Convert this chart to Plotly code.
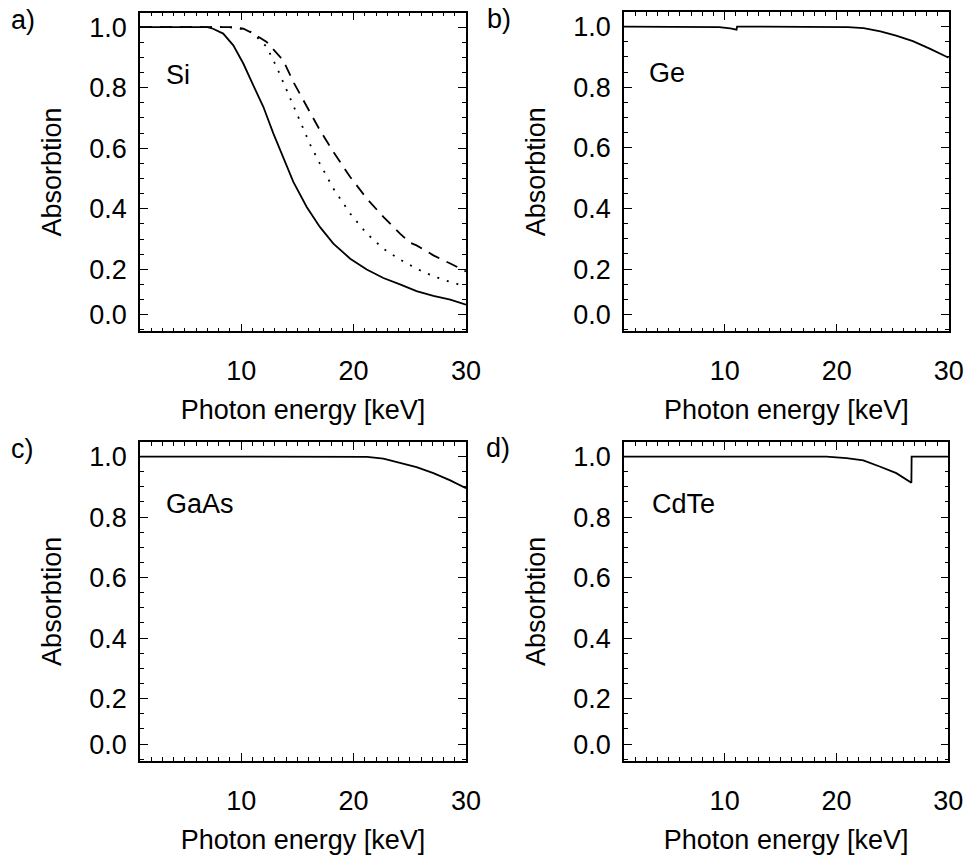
import plotly.graph_objects as go

# ---------------- data ----------------
si_solid_e = [1, 7.0, 7.5, 8.4, 9.3, 10.19, 11.08, 11.97, 12.86, 13.75, 14.64, 15.83, 17.0,
              18.2, 19.7, 21.17, 22.65, 24.13, 25.6, 27.1, 28.6, 30.0]
si_solid_a = [1.0, 1.0, 0.995, 0.979, 0.94, 0.88, 0.808, 0.737, 0.649, 0.571, 0.489, 0.406, 0.34,
              0.285, 0.235, 0.199, 0.171, 0.15, 0.128, 0.112, 0.1, 0.083]

si_dot_e = [1, 8.8, 9.6, 10.6, 11.08, 12.27, 13.15, 14.34, 15.2, 16.1, 17.0, 18.2, 19.7,
            21.17, 22.65, 24.13, 25.6, 27.1, 28.6, 30.0]
si_dot_a = [1.0, 1.0, 0.997, 0.99, 0.979, 0.935, 0.869, 0.77, 0.693, 0.615, 0.549, 0.467, 0.384,
            0.318, 0.268, 0.232, 0.202, 0.177, 0.158, 0.143]

si_dash_e = [1, 9.3, 10.2, 11.08, 12.27, 13.75, 14.64, 15.83, 17.0, 18.2, 19.7, 21.17, 22.65,
             24.13, 25.0, 25.6, 27.1, 28.6, 30.0]
si_dash_a = [1.0, 1.0, 0.995, 0.979, 0.951, 0.89, 0.819, 0.737, 0.66, 0.588, 0.505, 0.434, 0.373,
             0.318, 0.288, 0.279, 0.246, 0.219, 0.193]

ge_e = [1, 8.0, 9.5, 10.5, 11.05, 11.1, 12.0, 20.0, 21.0, 22.4, 23.9, 25.3, 26.8, 28.3, 30.0]
ge_a = [1.0, 1.0, 0.998, 0.994, 0.99, 1.0, 1.0, 0.999, 0.998, 0.995, 0.984, 0.97, 0.952, 0.927, 0.897]

gaas_e = [1, 20.0, 21.2, 22.65, 24.1, 25.6, 27.1, 28.6, 30.0]
gaas_a = [1.0, 1.0, 0.999, 0.993, 0.98, 0.965, 0.945, 0.921, 0.895]

cdte_e = [1, 19.1, 20.9, 22.4, 23.86, 25.35, 26.7, 26.72, 30.0]
cdte_a = [1.0, 1.0, 0.995, 0.987, 0.967, 0.945, 0.913, 1.0, 1.0]

x_tickvals = [10, 20, 30]
x_ticktext = ["10", "20", "30"]
y_tickvals = [0.05, 0.2, 0.4, 0.6, 0.8, 1.0]
y_ticktext = ["0.0", "0.2", "0.4", "0.6", "0.8", "1.0"]

panel_letters = ["a)", "b)", "c)", "d)"]
materials = ["Si", "Ge", "GaAs", "CdTe"]

# ---------------- layout geometry ----------------
W, H = 968, 859
FONT = "Liberation Sans, Arial, Helvetica, sans-serif"
FS = 27

def px_x(p):
    return p / W

def px_y(p):
    return 1 - p / H

# panel boxes in pixels: (left, right, top, bottom)
boxes = [(140, 466, 12.7, 331.3), (624, 948.7, 12, 331.3),
         (140, 466, 442, 760.7), (624, 948.3, 442, 760.7)]

fig = go.Figure()

traces = [
    (si_solid_e, si_solid_a, "solid", 1),
    (si_dot_e, si_dot_a, "2px,8px", 1),
    (si_dash_e, si_dash_a, "12px,8px", 1),
    (ge_e, ge_a, "solid", 2),
    (gaas_e, gaas_a, "solid", 3),
    (cdte_e, cdte_a, "solid", 4),
]
for xs, ys, dash, k in traces:
    fig.add_trace(go.Scatter(
        x=xs, y=ys, mode="lines", line=dict(color="black", width=1.8, dash=dash),
        xaxis="x" if k == 1 else f"x{k}", yaxis="y" if k == 1 else f"y{k}",
        showlegend=False, hoverinfo="skip"))

layout = dict(
    width=W, height=H, margin=dict(l=0, r=0, t=0, b=0, autoexpand=False),
    paper_bgcolor="white", plot_bgcolor="white",
    font=dict(family=FONT, size=FS, color="black"),
    showlegend=False,
)

annotations = []
for i, (l, r, t, b) in enumerate(boxes):
    k = i + 1
    xn = "xaxis" if k == 1 else f"xaxis{k}"
    yn = "yaxis" if k == 1 else f"yaxis{k}"
    xa = "x" if k == 1 else f"x{k}"
    ya = "y" if k == 1 else f"y{k}"
    layout[xn] = dict(
        domain=[px_x(l), px_x(r)], anchor=ya, range=[1, 30], automargin=False,
        tickmode="array", tickvals=x_tickvals, ticktext=x_ticktext,
        ticks="inside", ticklen=8, tickwidth=1.3, tickcolor="black",
        minor=dict(tickmode="linear", tick0=0, dtick=1, ticks="inside",
                   ticklen=4, tickwidth=1, tickcolor="black"),
        showline=True, linecolor="black", linewidth=1.5, mirror="ticks",
        showgrid=False, zeroline=False, ticklabelstandoff=15,
        tickfont=dict(family=FONT, size=FS, color="black"),
        title=dict(text="Photon energy [keV]", standoff=15,
                   font=dict(family=FONT, size=FS, color="black")),
    )
    layout[yn] = dict(
        domain=[px_y(b), px_y(t)], anchor=xa, range=[-0.005, 1.048], automargin=False,
        tickmode="array", tickvals=y_tickvals, ticktext=y_ticktext,
        ticks="inside", ticklen=8, tickwidth=1.3, tickcolor="black",
        minor=dict(tickmode="linear", tick0=0, dtick=0.05, ticks="inside",
                   ticklen=4, tickwidth=1, tickcolor="black"),
        showline=True, linecolor="black", linewidth=1.5, mirror="ticks",
        showgrid=False, zeroline=False, ticklabelstandoff=6,
        tickfont=dict(family=FONT, size=FS, color="black"),
        title=dict(text="Absorbtion", standoff=20,
                   font=dict(family=FONT, size=FS, color="black")),
    )

letter_pos = [(23, 20), (499, 19), (22, 449), (498, 448)]
for txt, (x, y) in zip(panel_letters, letter_pos):
    annotations.append(dict(text=txt, xref="paper", yref="paper", x=px_x(x), y=px_y(y),
                            xanchor="center", yanchor="middle", showarrow=False,
                            font=dict(family=FONT, size=FS, color="black")))

mat_pos = [(178, 75), (667, 73), (200, 504), (683, 504)]
for txt, (x, y) in zip(materials, mat_pos):
    annotations.append(dict(text=txt, xref="paper", yref="paper", x=px_x(x), y=px_y(y),
                            xanchor="center", yanchor="middle", showarrow=False,
                            font=dict(family=FONT, size=FS, color="black")))

layout["annotations"] = annotations
fig.update_layout(**layout)
fig.write_html(
    "out.html",
    config={"displayModeBar": False},
    post_script="document.body.style.margin='0';document.body.style.padding='0';",
)
